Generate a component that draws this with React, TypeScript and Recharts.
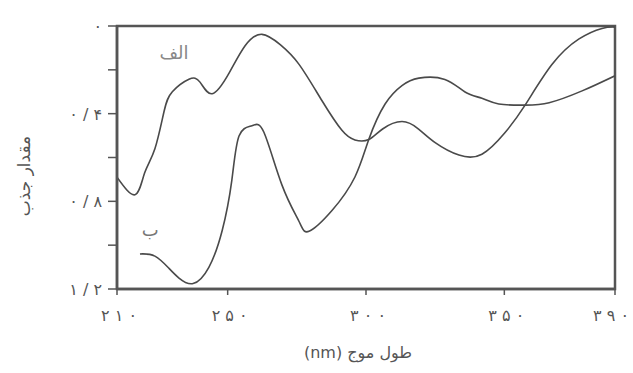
import { LineChart, Line, XAxis, YAxis, ReferenceArea, ReferenceDot, Label } from 'recharts';

// wavelength (nm) / absorbance
const alefNm = [210, 216.5, 220, 223.7, 227, 230, 236, 240, 244.4, 250.5, 256.3, 262.4, 269, 275.8, 284.1, 291.3, 296, 301, 306, 313, 319, 325, 333.6, 341.9, 350.2, 357.5, 367.2, 377, 385.3, 390];
const alefAbs = [0.69, 0.77, 0.67, 0.56, 0.39, 0.3, 0.243, 0.256, 0.309, 0.215, 0.09, 0.038, 0.085, 0.175, 0.341, 0.476, 0.52, 0.518, 0.47, 0.436, 0.47, 0.532, 0.589, 0.585, 0.487, 0.361, 0.176, 0.059, 0.011, 0.005];

const behNm = [218.3, 223.7, 228.8, 232.4, 237.5, 243.2, 248, 251.5, 254.1, 258.8, 263.1, 269.6, 275.8, 279.4, 287.7, 296, 301, 306.9, 313, 319.1, 328.5, 335.8, 341.9, 348, 357.5, 366.2, 378.1, 390];
const behAbs = [1.04, 1.05, 1.106, 1.15, 1.175, 1.101, 0.934, 0.704, 0.502, 0.455, 0.485, 0.725, 0.892, 0.937, 0.842, 0.689, 0.518, 0.356, 0.272, 0.238, 0.244, 0.301, 0.33, 0.356, 0.361, 0.35, 0.296, 0.227];

const xTicks = [210, 250, 300, 350, 390];
const xTickLabels = ['۲ ۱ ۰', '۲ ۵ ۰', '۳ ۰ ۰', '۳ ۵ ۰', '۳ ۹ ۰'];
const yTicks = [0, 0.2, 0.4, 0.6, 0.8, 1.0, 1.2];
const yTickLabels = ['۰', '', '۰ / ۴', '', '۰ / ۸', '', '۱ / ۲'];

const alefData = alefNm.map((nm, i) => ({ nm, a: alefAbs[i] }));
const behData = behNm.map((nm, i) => ({ nm, a: behAbs[i] }));

const FONT = '"DejaVu Sans", sans-serif';
const INK = '#4a4a4a';
const TEXT = '#555';

function XTick({ x, y, payload, index }: any) {
  const label = xTickLabels[xTicks.indexOf(payload.value)] ?? '';
  const last = index === xTicks.length - 1;
  return (
    <text x={last ? x + 14 : x + 2} y={y + 24} textAnchor={last ? 'end' : 'middle'} fill={TEXT} fontSize={16} fontFamily={FONT}>
      {label}
    </text>
  );
}

function YTick({ x, y, payload }: any) {
  const label = yTickLabels[yTicks.findIndex((t) => Math.abs(t - payload.value) < 1e-6)] ?? '';
  return (
    <text x={x - 4} y={y + 6} textAnchor="end" fill={TEXT} fontSize={16} fontFamily={FONT}>
      {label}
    </text>
  );
}

export default function App() {
  return (
    <div style={{ position: 'absolute', left: 0, top: 0, background: '#fff' }}>
      <LineChart width={633} height={373} margin={{ top: 26, right: 18, left: 0, bottom: 34 }}>
        <XAxis
          dataKey="nm"
          type="number"
          domain={[210, 390]}
          ticks={xTicks}
          allowDataOverflow
          height={50}
          tickSize={6}
          axisLine={{ stroke: '#555', strokeWidth: 2.5 }}
          tickLine={{ stroke: '#555', strokeWidth: 1.5 }}
          tick={<XTick />}
        >
          <Label
            content={() => (
              <text x={358} y={358} textAnchor="middle" direction="rtl" fill={TEXT} fontSize={16} fontFamily={FONT}>
                طول موج (nm)
              </text>
            )}
          />
        </XAxis>
        <YAxis
          type="number"
          reversed
          domain={[0, 1.2]}
          ticks={yTicks}
          width={117}
          tickSize={9}
          axisLine={{ stroke: '#555', strokeWidth: 2.5 }}
          tickLine={{ stroke: '#555', strokeWidth: 1.5 }}
          tick={<YTick />}
        >
          <Label
            content={() => (
              <text
                x={30}
                y={176}
                textAnchor="middle"
                direction="rtl"
                transform="rotate(-90 30 176)"
                fill={TEXT}
                fontSize={17}
                fontFamily={FONT}
              >
                مقدار جذب
              </text>
            )}
          />
        </YAxis>
        <ReferenceArea x1={210} x2={390} y1={0} y2={1.2} fill="none" stroke="#555" strokeWidth={2.5} />
        <Line data={alefData} dataKey="a" type="natural" stroke={INK} strokeWidth={1.6} dot={false} isAnimationActive={false} />
        <Line data={behData} dataKey="a" type="natural" stroke={INK} strokeWidth={1.6} dot={false} isAnimationActive={false} />
        <ReferenceDot
          x={230.6}
          y={0.12}
          r={0}
          label={{ value: 'الف', position: 'center', fill: '#888', fontSize: 18, fontFamily: FONT }}
        />
        <ReferenceDot
          x={222}
          y={0.93}
          r={0}
          label={{ value: 'ب', position: 'center', fill: '#777', fontSize: 18, fontFamily: FONT }}
        />
      </LineChart>
    </div>
  );
}
